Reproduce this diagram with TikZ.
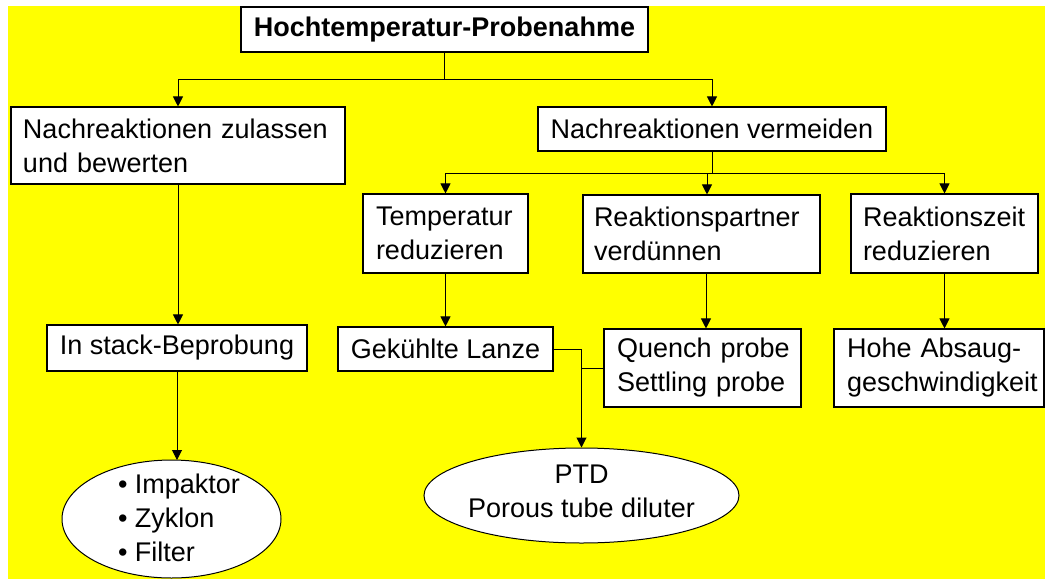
\documentclass[tikz,border=0pt]{standalone}
\usepackage{fontspec}
\setmainfont{Liberation Sans}
\usetikzlibrary{arrows.meta,shapes.geometric}
\definecolor{bgyellow}{RGB}{255,255,0}
\begin{document}
\begin{tikzpicture}[x=1pt,y=-1pt,
  every node/.style={font=\fontsize{27}{34}\selectfont},
  boxc/.style={draw=black, fill=white, line width=1.1pt, rectangle, align=center, inner xsep=0pt, inner ysep=0pt},
  boxl/.style={draw=black, fill=white, line width=1.1pt, rectangle, align=left, inner ysep=0pt},
  oval/.style={draw=black, fill=white, line width=1pt, ellipse, inner sep=0pt},
  plain/.style={inner sep=0pt},
  conn/.style={line width=1pt},
  arr/.style={line width=1pt, -{Triangle[length=10pt,width=10pt]}}]
\useasboundingbox (0,0) rectangle (1045,579);
\fill[white] (0,0) rectangle (1045,579);
\fill[bgyellow] (8,6) rectangle (1045,579);

% nodes
\node[boxc, font=\fontsize{27}{34}\selectfont\bfseries, minimum width=407pt, minimum height=45pt] (top) at (444.5,29.5) {Hochtemperatur-Probenahme};
\node[boxl, inner xsep=12pt, text width=310pt, minimum height=77pt] (zul) at (178,145.5) {\mbox{Nachreaktionen zulassen}\\\mbox{und bewerten}};
\node[boxc, minimum width=348pt, minimum height=44pt] (verm) at (712,129) {Nachreaktionen vermeiden};
\node[boxl, inner xsep=13pt, text width=139pt, minimum height=79pt] (temp) at (445.5,233.5) {\mbox{Temperatur}\\\mbox{reduzieren}};
\node[boxl, inner xsep=11pt, text width=215pt, minimum height=78pt] (partner) at (701.5,234) {\mbox{Reaktionspartner}\\\mbox{verdünnen}};
\node[boxl, inner xsep=12pt, text width=163pt, minimum height=79pt] (zeit) at (944.5,233.5) {\mbox{Reaktionszeit}\\\mbox{reduzieren}};
\node[boxc, minimum width=260pt, minimum height=46pt] (instack) at (177,348) {In stack-Beprobung};
\node[boxc, minimum width=215pt, minimum height=44pt] (lanze) at (445.5,349) {Gekühlte Lanze};
\node[boxl, inner xsep=13pt, text width=171pt, minimum height=78pt] (quench) at (702.5,368) {\mbox{Quench probe}\\\mbox{Settling probe}};
\node[boxl, inner xsep=13pt, text width=184pt, minimum height=78pt] (hohe) at (939,368) {\mbox{Hohe Absaug-}\\\mbox{geschwindigkeit}};
\node[oval, minimum width=219pt, minimum height=118pt] (ell1) at (171.5,519) {};
\node[plain, align=left] (ell1t) at (179,518) {• Impaktor\\• Zyklon\\• Filter};
\node[oval, minimum width=315pt, minimum height=95pt] (ptd) at (581.5,495.5) {};
\node[plain, align=center] (ptdt) at (581.5,491) {PTD\\Porous tube diluter};

% connectors
\coordinate (j1) at (444.5,79);
\coordinate (j2) at (712,173);
\draw[conn] (top.south) -- (j1);
\draw[arr] (j1) -| (zul.north);
\draw[arr] (j1) -| (verm.north);
\draw[conn] (verm.south) -- (j2);
\draw[arr] (j2) -| (temp.north);
\draw[arr] (j2) -| (zeit.north);
\draw[arr] ([xshift=-5pt]j2) -- ([xshift=5.5pt]partner.north);
\draw[arr] (zul.south) -- (zul.south |- instack.north);
\draw[arr] (instack.south) -- ([yshift=-0.5pt]instack.south |- ell1.north);
\draw[arr] (temp.south) -- (lanze.north);
\draw[arr] ([xshift=4.5pt]partner.south) -- ([xshift=3.5pt]quench.north);
\draw[arr] (zeit.south) -- (zeit.south |- hohe.north);
\draw[arr] (lanze.east) -| (ptd.north);
\draw[conn] (quench.west) -- (quench.west -| ptd.north);
\end{tikzpicture}
\end{document}
